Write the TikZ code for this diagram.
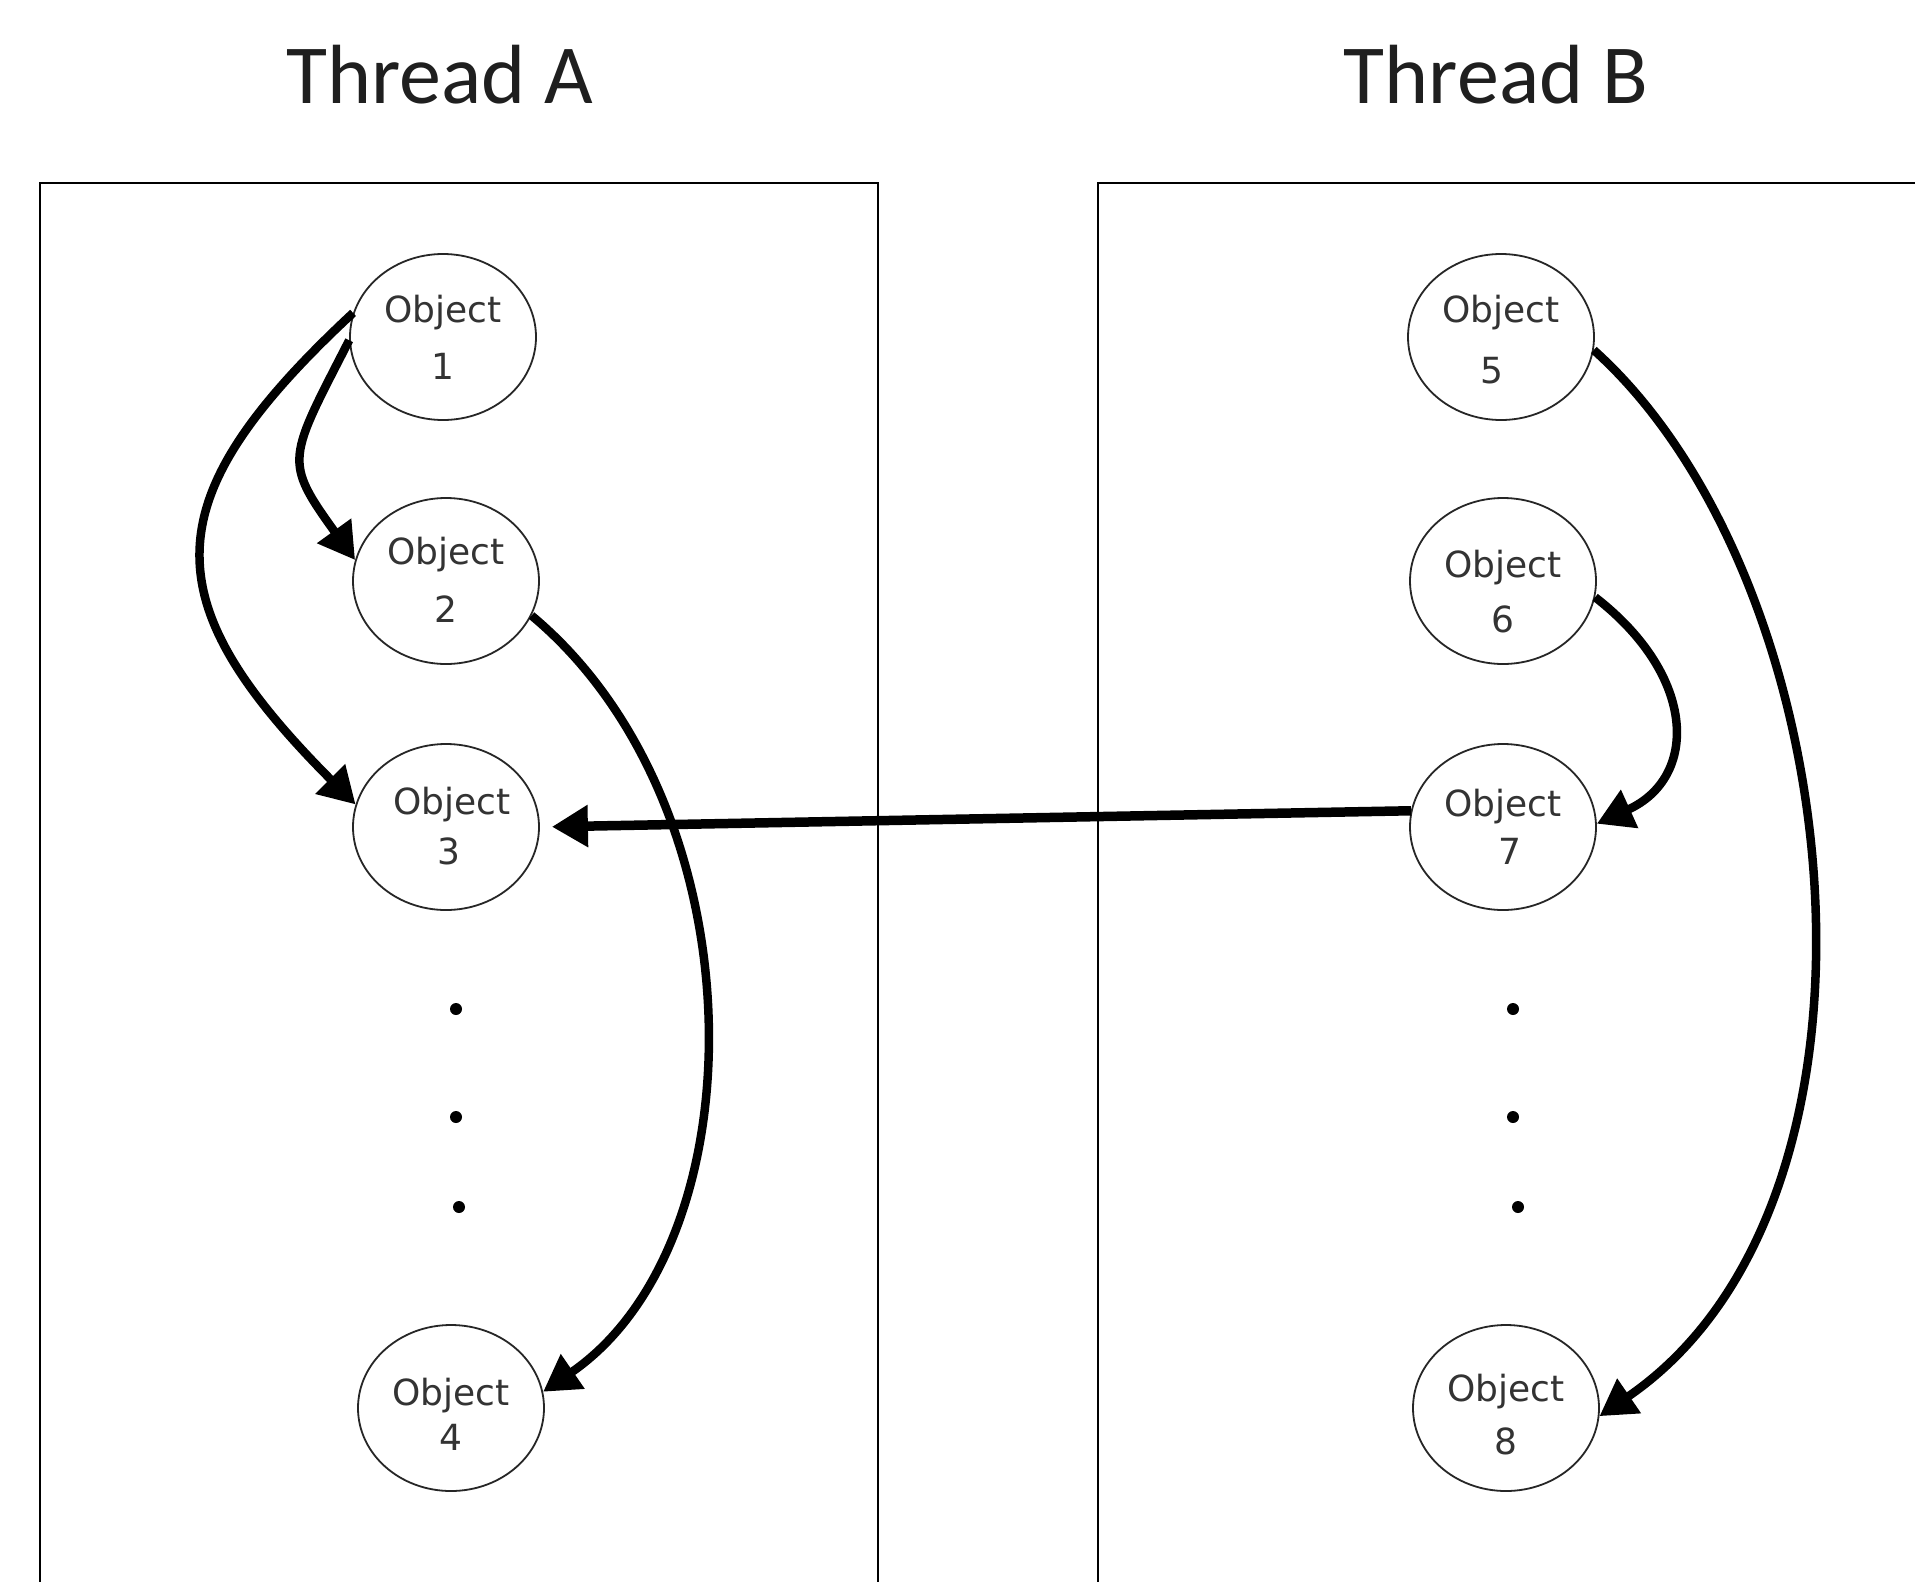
\documentclass[tikz,border=0pt]{standalone}
\usepackage{fontspec}
\setmainfont{DejaVu Sans}
\newfontfamily\titlefont{Carlito}
\usetikzlibrary{arrows.meta,shapes.geometric}

\tikzset{
  objnode/.style={ellipse, draw=black!85, line width=1.8pt,
    minimum width=186pt, minimum height=166pt, inner sep=0pt},
  objtxt/.style={font=\fontsize{36}{36}\selectfont, text=black!80,
    text height=26pt, text depth=0pt, inner sep=0pt},
  threadtitle/.style={font=\titlefont\fontsize{84}{84}\selectfont, text=black!88,
    text height=54pt, text depth=0pt, inner sep=0pt},
  threadbox/.style={draw=black, line width=2.4pt},
  link/.style={draw=black, line width=8.5pt,
    -{Triangle[length=36pt,width=40pt]}},
  ellipsisdot/.style={circle, fill=black, inner sep=0pt, minimum size=12pt}
}

\begin{document}
\begin{tikzpicture}[x=1pt,y=1pt]
  \clip (0,0) rectangle (1915,-1582);
  \fill[white] (0,0) rectangle (1915,-1582);

  % thread headings
  \node[threadtitle] (titleA) at (440,-76) {Thread A};
  \node[threadtitle] (titleB) at (1496,-76) {Thread B};

  % thread frames, running past the lower edge
  \draw[threadbox] (40,-1650) -- (40,-183) -- (878,-183) -- (878,-1650);
  \draw[threadbox] (1098,-1650) -- (1098,-183) -- (1990,-183);

  % objects of thread A
  \node[objnode] (o1) at (443,-337) {};
  \node[objnode] (o2) at (446,-581) {};
  \node[objnode] (o3) at (446,-827) {};
  \node[objnode] (o4) at (451,-1408) {};
  % objects of thread B
  \node[objnode] (o5) at (1501,-337) {};
  \node[objnode] (o6) at (1503,-581) {};
  \node[objnode] (o7) at (1503,-827) {};
  \node[objnode] (o8) at (1506,-1408) {};

  % object labels
  \node[objtxt] (l1a) at ([yshift=28pt]o1.center) {Object};
  \node[objtxt] (l1b) at ([yshift=-29pt]o1.center) {1};
  \node[objtxt] (l2a) at ([yshift=30pt]o2.center) {Object};
  \node[objtxt] (l2b) at ([yshift=-28pt]o2.center) {2};
  \node[objtxt] (l3a) at ([xshift=6pt,yshift=26pt]o3.center) {Object};
  \node[objtxt] (l3b) at ([xshift=3pt,yshift=-24pt]o3.center) {3};
  \node[objtxt] (l4a) at ([yshift=16pt]o4.center) {Object};
  \node[objtxt] (l4b) at ([yshift=-29pt]o4.center) {4};
  \node[objtxt] (l5a) at ([yshift=28pt]o5.center) {Object};
  \node[objtxt] (l5b) at ([xshift=-9pt,yshift=-33pt]o5.center) {5};
  \node[objtxt] (l6a) at ([yshift=17pt]o6.center) {Object};
  \node[objtxt] (l6b) at ([yshift=-38pt]o6.center) {6};
  \node[objtxt] (l7a) at ([yshift=24pt]o7.center) {Object};
  \node[objtxt] (l7b) at ([xshift=7pt,yshift=-24pt]o7.center) {7};
  \node[objtxt] (l8a) at ([yshift=20pt]o8.center) {Object};
  \node[objtxt] (l8b) at ([yshift=-33pt]o8.center) {8};

  % vertical ellipses between objects
  \node[ellipsisdot] (da1) at (456,-1009) {};
  \node[ellipsisdot] (da2) at (456,-1117) {};
  \node[ellipsisdot] (da3) at (459,-1207) {};
  \node[ellipsisdot] (db1) at (1513,-1009) {};
  \node[ellipsisdot] (db2) at (1513,-1117) {};
  \node[ellipsisdot] (db3) at (1518,-1207) {};

  % references inside thread A
  \draw[link] (o1.182) .. controls (288,-460) and (283,-460) .. (o2.167);
  \draw[link] (o1.165) .. controls (152,-500) and (152,-600) .. (o3.166);
  \draw[link] (o2.-22) .. controls (761,-807) and (761,-1242) .. (o4.10);

  % references inside thread B
  \draw[link] (o5.-8) .. controls (1850,-580) and (1915,-1200) .. (o8.-5);
  \draw[link] (o6.-10) .. controls (1698,-677) and (1698,-778) .. (o7.2);

  % reference from thread B into thread A
  \draw[link, line width=9.5pt, shorten >=12pt] (o7.170) -- (o3.east);
\end{tikzpicture}
\end{document}
